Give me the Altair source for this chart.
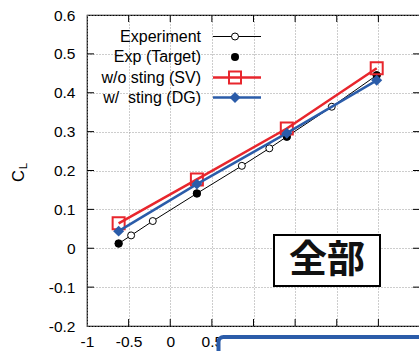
import altair as alt
import pandas as pd

# Lift coefficient vs. angle of attack
exp_alpha = [-0.62, -0.47, -0.21, 0.32, 0.86, 1.19, 1.40, 1.94, 2.48]
exp_cl = [0.012, 0.033, 0.070, 0.141, 0.212, 0.257, 0.287, 0.364, 0.445]

target_alpha = [-0.62, 0.32, 1.40, 2.48]
target_cl = [0.012, 0.141, 0.287, 0.445]

sv_alpha = [-0.62, 0.32, 1.40, 2.48]
sv_cl = [0.064, 0.177, 0.308, 0.463]

dg_alpha = [-0.62, 0.32, 1.40, 2.48]
dg_cl = [0.044, 0.165, 0.296, 0.432]

x_ticks = [-1, -0.5, 0, 0.5, 1, 1.5, 2, 2.5, 3]
y_ticks = [-0.2, -0.1, 0, 0.1, 0.2, 0.3, 0.4, 0.5, 0.6]

legend_labels = ["Experiment", "Exp (Target)", "w/o sting (SV)", "w/\u00a0 sting (DG)"]

RED = "#e8262d"
BLUE = "#2b5ca9"
FONT = "Liberation Sans"
W, H = 333, 311

xs = alt.Scale(domain=[-1, 3], nice=False, zero=False)
ys = alt.Scale(domain=[-0.2, 0.6], nice=False, zero=False)

exp_df = pd.DataFrame({"a": exp_alpha, "cl": exp_cl})
tgt_df = pd.DataFrame({"a": target_alpha, "cl": target_cl})
sv_df = pd.DataFrame({"a": sv_alpha, "cl": sv_cl})
dg_df = pd.DataFrame({"a": dg_alpha, "cl": dg_cl})
one = pd.DataFrame({"k": [0]})

label_expr = "replace(format(datum.value, '~g'), '\u2212', '-')"
x_label_expr = "datum.value >= 3 ? '' : " + label_expr

x_axis = alt.Axis(values=x_ticks, labelExpr=x_label_expr, title=None, grid=True,
                  ticks=False, domain=False, labelFontSize=15.5, labelFont=FONT,
                  labelColor="black", labelPadding=8, labelFlush=False)
y_axis = alt.Axis(values=y_ticks, labelExpr=label_expr, title=None, grid=True,
                  ticks=False, domain=False, labelFontSize=15.5, labelFont=FONT,
                  labelColor="black", labelPadding=12, labelFlush=False)


def X():
    return alt.X("a:Q", scale=xs, axis=x_axis, title=None)


def Y():
    return alt.Y("cl:Q", scale=ys, axis=y_axis, title=None)


exp_line = alt.Chart(exp_df).mark_line(color="black", strokeWidth=1).encode(x=X(), y=Y())
exp_pts = alt.Chart(exp_df).mark_point(shape="circle", filled=True, fill="white",
                                       stroke="black", strokeWidth=1, size=49,
                                       opacity=1).encode(x=X(), y=Y())
tgt_pts = alt.Chart(tgt_df).mark_point(shape="circle", filled=True, color="black",
                                       size=64, opacity=1).encode(x=X(), y=Y())
sv_line = alt.Chart(sv_df).mark_line(color=RED, strokeWidth=2.5).encode(x=X(), y=Y())
sv_pts = alt.Chart(sv_df).mark_point(shape="square", filled=False, stroke=RED,
                                     strokeWidth=2, size=144, opacity=1).encode(x=X(), y=Y())
dg_line = alt.Chart(dg_df).mark_line(color=BLUE, strokeWidth=2.5).encode(x=X(), y=Y())
dg_pts = alt.Chart(dg_df).mark_point(shape="diamond", filled=True, color=BLUE,
                                     size=120, opacity=1).encode(x=X(), y=Y())

# inward tick marks on all four sides
xt_df = pd.DataFrame({"a": x_ticks[1:-1]})
yt_df = pd.DataFrame({"cl": y_ticks[1:-1]})
tick_style = dict(color="black", strokeWidth=1)
ticks = [
    alt.Chart(xt_df).mark_rule(**tick_style).encode(x=X(), y=alt.value(H), y2=alt.value(H - 7)),
    alt.Chart(xt_df).mark_rule(**tick_style).encode(x=X(), y=alt.value(0), y2=alt.value(7)),
    alt.Chart(yt_df).mark_rule(**tick_style).encode(y=Y(), x=alt.value(0), x2=alt.value(7)),
    alt.Chart(yt_df).mark_rule(**tick_style).encode(y=Y(), x=alt.value(W), x2=alt.value(W - 7)),
]

# y-axis title C_L
ytitle = [
    alt.Chart(one).mark_text(text="C", angle=270, fontSize=16.5, font=FONT,
                             color="black").encode(x=alt.value(-68.5), y=alt.value(161)),
    alt.Chart(one).mark_text(text="L", angle=270, fontSize=11.5, font=FONT,
                             color="black").encode(x=alt.value(-63), y=alt.value(151)),
]

# key in the upper left corner
key = []
rows = [21.5, 42, 62.5, 82.5]
for lab, ry in zip(legend_labels, rows):
    key.append(alt.Chart(one).mark_text(text=lab, align="right", baseline="middle",
                                        fontSize=16, font=FONT, color="black").encode(
        x=alt.value(114), y=alt.value(ry)))
key += [
    alt.Chart(one).mark_rule(color="black", strokeWidth=1).encode(
        x=alt.value(126), x2=alt.value(174), y=alt.value(rows[0])),
    alt.Chart(one).mark_point(shape="circle", filled=True, fill="white", stroke="black",
                              strokeWidth=1, size=49, opacity=1).encode(
        x=alt.value(148), y=alt.value(rows[0])),
    alt.Chart(one).mark_point(shape="circle", filled=True, color="black", size=64,
                              opacity=1).encode(x=alt.value(148), y=alt.value(rows[1])),
    alt.Chart(one).mark_rule(color=RED, strokeWidth=2.5).encode(
        x=alt.value(126), x2=alt.value(174), y=alt.value(rows[2])),
    alt.Chart(one).mark_point(shape="square", filled=False, stroke=RED, strokeWidth=2,
                              size=144, opacity=1).encode(x=alt.value(148), y=alt.value(rows[2])),
    alt.Chart(one).mark_rule(color=BLUE, strokeWidth=2.5).encode(
        x=alt.value(126), x2=alt.value(174), y=alt.value(rows[3])),
    alt.Chart(one).mark_point(shape="diamond", filled=True, color=BLUE, size=120,
                              opacity=1).encode(x=alt.value(148), y=alt.value(rows[3])),
]

# boxed label
boxed = [
    alt.Chart(one).mark_rect(fill="white", stroke="black", strokeWidth=2).encode(
        x=alt.value(187), x2=alt.value(293), y=alt.value(220), y2=alt.value(271)),
    alt.Chart(one).mark_text(text="全部", fontSize=38, font="Noto Sans CJK JP",
                             fontWeight="bold", color="#111111", baseline="middle",
                             align="center").encode(x=alt.value(240), y=alt.value(246)),
]

# panel overlapping the bottom edge
panel = alt.Chart(one).mark_rect(fill="white", stroke=BLUE, strokeWidth=4,
                                 cornerRadius=5).encode(
    x=alt.value(131.5), x2=alt.value(420), y=alt.value(322), y2=alt.value(360))

chart = alt.layer(
    exp_line, *ticks, exp_pts, tgt_pts, sv_line, sv_pts, dg_line, dg_pts,
    *ytitle, *key, *boxed, panel,
).properties(
    width=W, height=H, autosize="none",
    padding={"left": 87, "top": 15, "right": -1, "bottom": 25},
    background="white",
).configure_view(
    stroke="black", strokeWidth=1.2,
).configure_axis(
    gridColor="#9a9a9a", gridDash=[1, 2], gridWidth=1,
)

chart.save("out.html", embed_options={"renderer": "svg", "actions": False})
